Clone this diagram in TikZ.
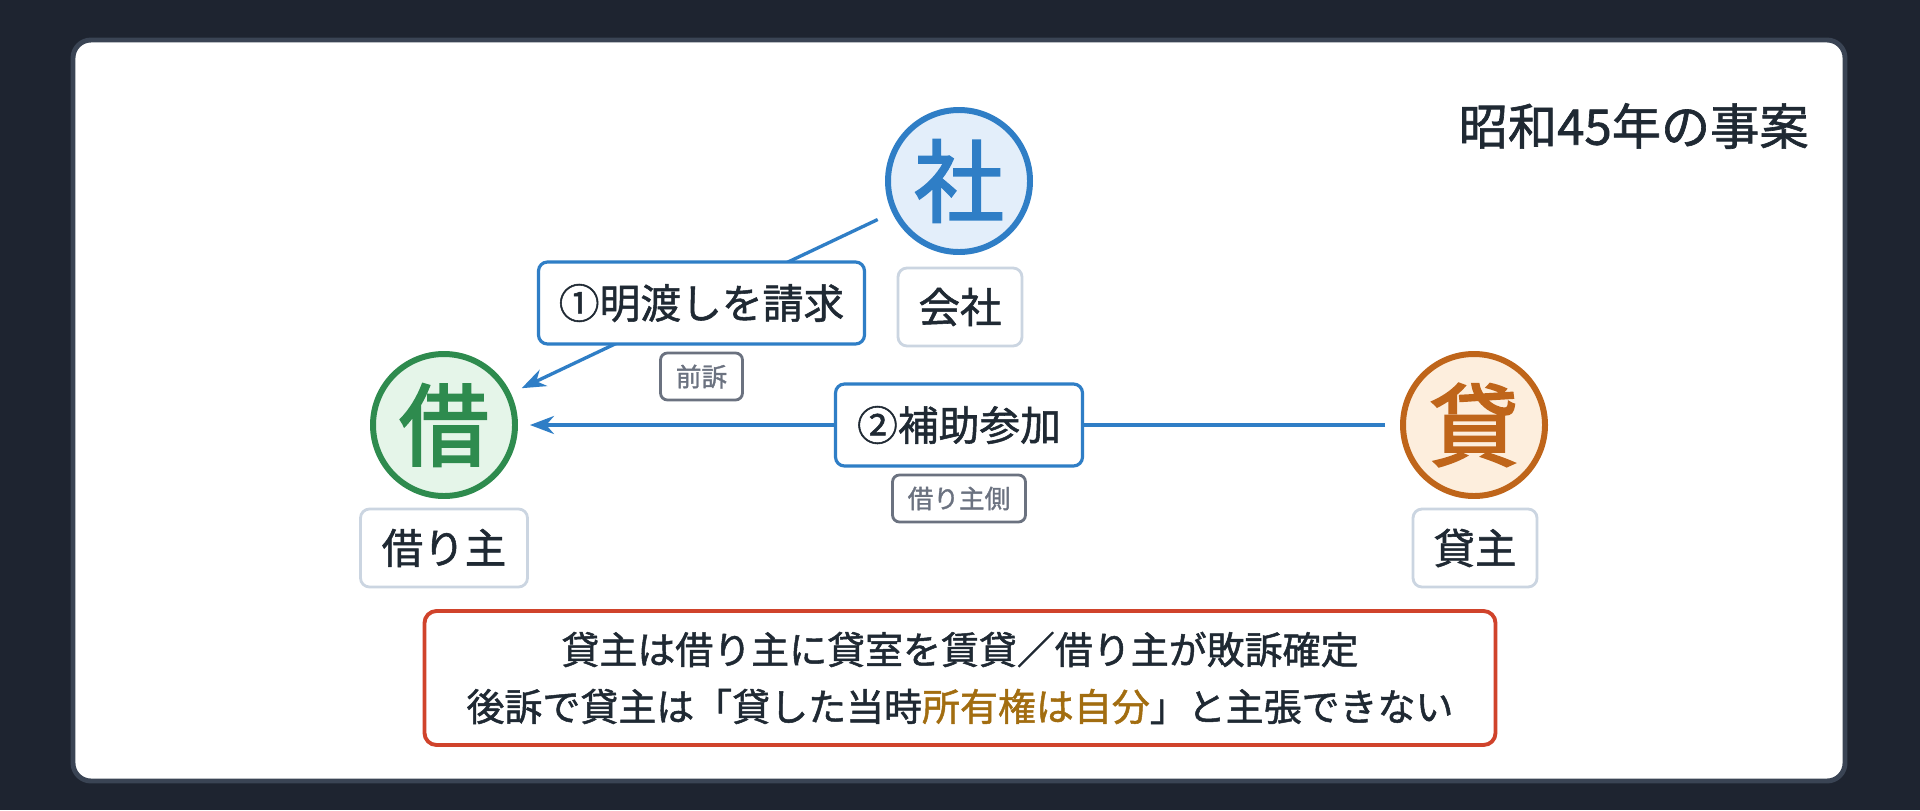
\documentclass[tikz,border=0pt]{standalone}
\usepackage{fontspec}
\setmainfont{Noto Sans CJK JP}
\newfontfamily\medf{Noto Sans CJK JP}[FakeBold=1.3]
\newfontfamily\bigf{Noto Sans CJK JP}[FakeBold=2.4]
\usetikzlibrary{positioning,arrows.meta}
\definecolor{bgdark}{HTML}{1E2430}
\definecolor{cardline}{HTML}{3A4454}
\definecolor{ink}{HTML}{1F2933}
\definecolor{blueline}{HTML}{2F7EC6}
\definecolor{bluefill}{HTML}{E3EEFA}
\definecolor{greenline}{HTML}{2E8B4E}
\definecolor{greenfill}{HTML}{E5F5E9}
\definecolor{orangeline}{HTML}{BF651A}
\definecolor{orangefill}{HTML}{FDEEDD}
\definecolor{lblline}{HTML}{CBD5E1}
\definecolor{tagline}{HTML}{6B7280}
\definecolor{redline}{HTML}{D0432B}
\definecolor{gold}{HTML}{A26D10}
\tikzset{
  party/.style={circle, line width=1.7pt, minimum size=1.42cm, inner sep=0pt,
    font=\bigf\fontsize{25.5}{28}\selectfont},
  namebox/.style={draw=lblline, line width=0.8pt, fill=white, rounded corners=0.09cm,
    inner sep=0pt, minimum height=0.78cm, text=ink, font=\medf\fontsize{11.8}{14}\selectfont},
  actbox/.style={draw=blueline, line width=0.9pt, fill=white, rounded corners=0.09cm,
    inner sep=0pt, minimum height=0.82cm, text=ink, font=\medf\fontsize{11.6}{14}\selectfont},
  tagbox/.style={draw=tagline, line width=0.8pt, fill=white, rounded corners=0.07cm,
    inner sep=0pt, minimum height=0.47cm, text=tagline, font=\medf\fontsize{7.3}{9}\selectfont},
  flow/.style={draw=blueline, line width=0.95pt, -{Stealth[length=2.4mm,width=1.8mm]}},
}
\begin{document}
\begin{tikzpicture}
\useasboundingbox (0,0) rectangle (19.2,8.1);
\fill[bgdark] (0,0) rectangle (19.2,8.1);
\draw[cardline, line width=1.4pt, fill=white, rounded corners=0.18cm] (0.73,0.29) rectangle (18.45,7.70);

\node[anchor=east, text=ink, font=\medf\fontsize{14}{16}\selectfont] (title) at (18.21,6.84) {昭和45年の事案};

\node[party, draw=blueline, fill=bluefill, text=blueline] (sha) at (9.59,6.29) {社};
\node[party, draw=greenline, fill=greenfill, text=greenline] (kari) at (4.44,3.85) {借};
\node[party, draw=orangeline, fill=orangefill, text=orangeline] (kashi) at (14.74,3.85) {貸};

\node[namebox, minimum width=1.24cm] (shaname) at (9.60,5.03) {会社};
\node[namebox, minimum width=1.67cm] (kariname) at (4.44,2.62) {借り主};
\node[namebox, minimum width=1.24cm] (kashiname) at (14.75,2.62) {貸主};

\draw[flow, shorten <=0.16cm, shorten >=0.12cm] (sha) -- (kari)
  node[actbox, minimum width=3.26cm, pos=0.5] (act1) {①明渡しを請求};
\draw[flow, shorten <=0.15cm, shorten >=0.12cm] (kashi) -- (kari)
  node[actbox, minimum width=2.47cm, pos=0.5] (act2) {②補助参加};

\node[tagbox, minimum width=0.82cm, below=0.06cm of act1] (tag1) {前訴};
\node[tagbox, minimum width=1.33cm, below=0.06cm of act2] (tag2) {借り主側};

\node[draw=redline, line width=1.1pt, fill=white, rounded corners=0.12cm,
  minimum width=10.71cm, minimum height=1.34cm, inner sep=0pt, align=center,
  text=ink, font=\medf\fontsize{10.8}{16.2}\selectfont] (note) at (9.60,1.32)
  {貸主は借り主に貸室を賃貸／借り主が敗訴確定\\後訴で貸主は「貸した当時\textcolor{gold}{所有権は自分}」と主張できない};
\end{tikzpicture}
\end{document}
